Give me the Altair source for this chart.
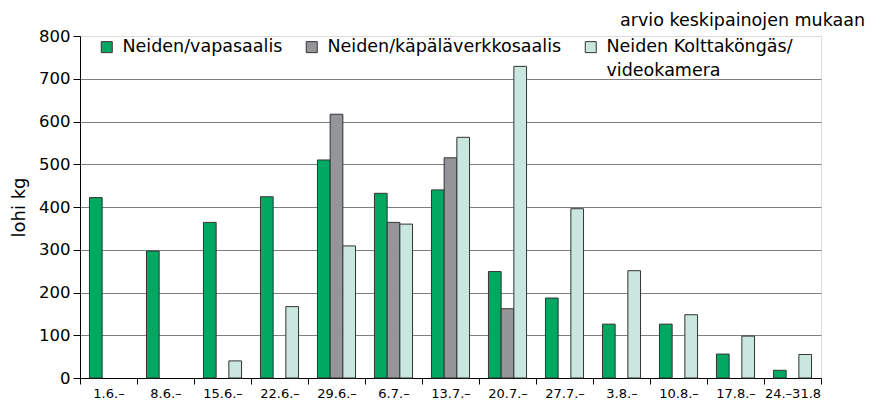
import altair as alt
import pandas as pd
import json

weeks = ["1.6.–", "8.6.–", "15.6.–", "22.6.–", "29.6.–", "6.7.–", "13.7.–",
         "20.7.–", "27.7.–", "3.8.–", "10.8.–", "17.8.–", "24.–31.8"]
vapasaalis = [422, 297, 364, 424, 510, 432, 440, 249, 187, 126, 126, 56, 18]
kapalaverkko = [None, None, None, None, 617, 364, 515, 162, None, None, None, None, None]
videokamera = [None, None, 40, 167, 309, 360, 563, 729, 396, 251, 148, 98, 55]

series = ["Neiden/vapasaalis", "Neiden/käpäläverkkosaalis", "Neiden Kolttaköngäs/videokamera"]
legend_lines = [["Neiden/vapasaalis", ""], ["Neiden/käpäläverkkosaalis", ""],
                ["Neiden Kolttaköngäs/", "videokamera"]]
note = "arvio keskipainojen mukaan"
colors = ["#00a862", "#939598", "#c9e6df"]
y_ticks = [0, 100, 200, 300, 400, 500, 600, 700, 800]

rows = []
for name, vals in zip(series, [vapasaalis, kapalaverkko, videokamera]):
    for w, v in zip(weeks, vals):
        rows.append({"viikko": w, "sarja": name, "kg": v})
df = pd.DataFrame(rows)

label_expr = " : ".join(
    f"datum.label == {json.dumps(s)} ? {json.dumps(l)}" for s, l in zip(series, legend_lines)
) + " : datum.label"

FONT = "DejaVu Sans"

chart = alt.Chart(df).mark_bar(stroke="#333333", strokeWidth=1).encode(
    x=alt.X("viikko:N", sort=weeks, title=None,
            scale=alt.Scale(paddingInner=0, paddingOuter=0),
            axis=alt.Axis(labelAngle=0, tickBand="extent", labelFontSize=13,
                          labelFont=FONT, labelColor="#000000", domainColor="#000000",
                          tickColor="#000000", tickSize=6, labelPadding=3,
                          grid=False)),
    xOffset=alt.XOffset("sarja:N", sort=series,
                        scale=alt.Scale(domain=series, paddingInner=0, paddingOuter=0.745)),
    y=alt.Y("kg:Q", title="lohi kg",
            scale=alt.Scale(domain=[0, 800], nice=False),
            axis=alt.Axis(values=y_ticks, labelFontSize=16.5, labelFont=FONT,
                          labelColor="#000000", titleFont=FONT, titleFontSize=18,
                          titleFontWeight="normal", titleColor="#000000",
                          titlePadding=10, domainColor="#000000", tickColor="#000000",
                          tickSize=7, labelPadding=3, grid=True, gridColor="#808080",
                          gridWidth=1.2,
                          gridOpacity={"condition": {"test": "datum.value == 800", "value": 0}, "value": 1})),
    color=alt.Color("sarja:N", sort=series,
                    scale=alt.Scale(domain=series, range=colors),
                    legend=alt.Legend(title=None, orient="none", direction="horizontal",
                                      columns=3, legendX=18, legendY=2,
                                      symbolType="square", symbolSize=121,
                                      symbolStrokeColor="#333333", symbolStrokeWidth=1,
                                      symbolOpacity=1,
                                      labelFont=FONT, labelFontSize=17.5, labelColor="#000000",
                                      labelOffset=7, columnPadding=20,
                                      labelExpr=label_expr, labelLimit=400)),
).properties(
    width=741, height=342,
    title=alt.TitleParams(text=note, anchor="start", frame="group", dx=540, dy=1, offset=0,
                          font=FONT, fontSize=17.5, fontWeight="normal", color="#000000"),
    autosize=alt.AutoSizeParams(type="none"),
    padding={"left": 72, "top": 28, "right": 50, "bottom": 22},
).configure_view(stroke=None).configure(
    background="#ffffff", style={"guide-label": {"lineHeight": 24}})

chart.save("out.html", embed_options={"renderer": "svg", "actions": False})
